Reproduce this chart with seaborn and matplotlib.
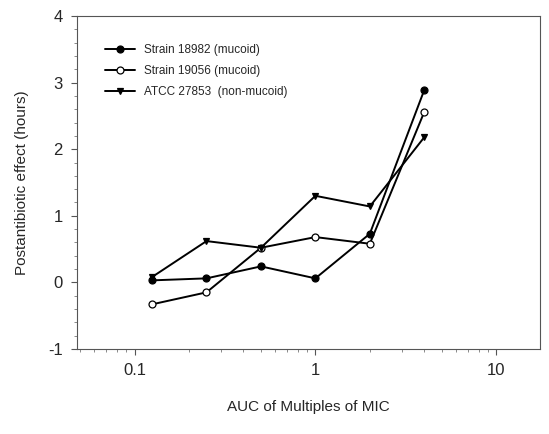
import numpy as np
import pandas as pd
import matplotlib
matplotlib.use("Agg")
import matplotlib.pyplot as plt
import seaborn as sns
from matplotlib.ticker import LogLocator, FixedLocator, NullFormatter, FuncFormatter

auc = [0.125, 0.25, 0.5, 1, 2, 4]
strain_18982 = [0.03, 0.06, 0.24, 0.06, 0.73, 2.89]
strain_19056 = [-0.33, -0.15, 0.52, 0.68, 0.58, 2.56]
atcc_27853 = [0.08, 0.62, 0.52, 1.30, 1.14, 2.18]
series_names = ["Strain 18982 (mucoid)", "Strain 19056 (mucoid)", "ATCC 27853  (non-mucoid)"]

sns.set_theme(style="ticks")
plt.rcParams['font.family'] = ['Liberation Sans', 'DejaVu Sans']
plt.rcParams['axes.unicode_minus'] = False

fig = plt.figure(figsize=(5.49, 4.34), dpi=100)
ax = fig.add_axes([0.140, 0.196, 0.844, 0.767])

styles = [("o", "black"), ("o", "white"), ("v", "black")]
for vals, name, (mk, fc) in zip([strain_18982, strain_19056, atcc_27853], series_names, styles):
    d = pd.DataFrame({"auc": auc, "pae": vals})
    sns.lineplot(data=d, x="auc", y="pae", ax=ax, color="black", linewidth=1.4,
                 marker=mk, markersize=5, markerfacecolor=fc,
                 markeredgecolor="black", markeredgewidth=0.9, label=name)

ax.set_xscale("log")
ax.set_xlim(0.048, 17.5)
ax.set_ylim(-1, 4)
ax.xaxis.set_major_locator(FixedLocator([0.1, 1, 10]))
ax.xaxis.set_major_formatter(FuncFormatter(lambda v, p: f"{v:g}"))
ax.xaxis.set_minor_locator(LogLocator(base=10, subs=np.arange(2, 10)))
ax.xaxis.set_minor_formatter(NullFormatter())
ax.set_yticks([-1, 0, 1, 2, 3, 4])
ax.yaxis.set_minor_locator(FixedLocator(np.arange(-1, 4.01, 0.2)))

for s in ax.spines.values():
    s.set_linewidth(0.8)
    s.set_color("#555555")
ax.tick_params(which="major", length=4, width=0.8, labelsize=12, color="#555555", pad=6)
ax.tick_params(which="minor", length=2, width=0.6, color="#777777")

ax.set_xlabel("AUC of Multiples of MIC", fontsize=11, labelpad=16)
ax.set_ylabel("Postantibiotic effect (hours)", fontsize=11, labelpad=14)

ax.legend(loc="upper left", bbox_to_anchor=(0.05, 0.93),
          frameon=False, fontsize=8.5, handlelength=2.6, labelspacing=0.75,
          handletextpad=0.7, borderaxespad=0)

fig.savefig("out.png", dpi=100)
